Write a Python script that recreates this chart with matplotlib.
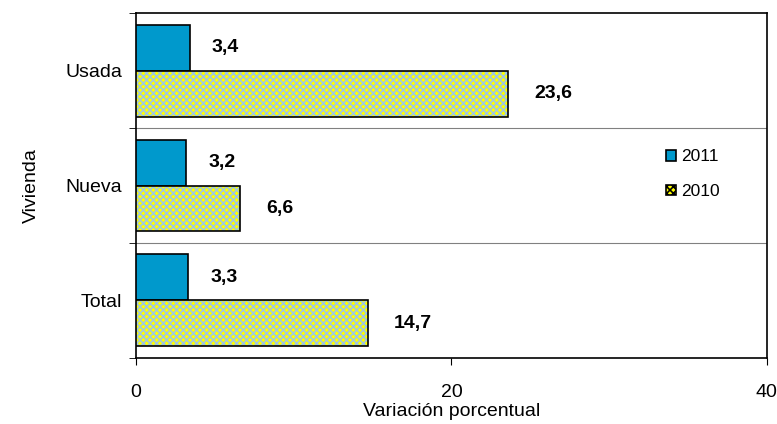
import numpy as np
import matplotlib.pyplot as plt

plt.rcParams['font.family'] = ['Liberation Sans', 'DejaVu Sans']
plt.rcParams['hatch.linewidth'] = 1.2

# datos
categorias = ["Total", "Nueva", "Usada"]
serie_2011 = [3.3, 3.2, 3.4]
serie_2010 = [14.7, 6.6, 23.6]
etiquetas_2011 = ["3,3", "3,2", "3,4"]
etiquetas_2010 = ["14,7", "6,6", "23,6"]

fig = plt.figure(figsize=(7.77, 4.24), dpi=100)
ax = fig.add_axes([0.175, 0.156, 0.812, 0.813])

y = np.arange(len(categorias))
h = 0.4

# barras 2011
ax.barh(y + h / 2, serie_2011, height=h, color='#0099CC', edgecolor='black',
        linewidth=1.2, label='2011', zorder=3)
# barras 2010 (relleno cuadriculado)
ax.barh(y - h / 2, serie_2010, height=h, color='#FFFF00', edgecolor='#9FC8E0',
        hatch='xxxxx', linewidth=0, zorder=3)
ax.barh(y - h / 2, serie_2010, height=h, fill=False, edgecolor='black',
        linewidth=1.2, zorder=4)
# proxy para la leyenda
proxy = plt.Rectangle((0, 0), 1, 1, facecolor='#FFFF00', edgecolor='black',
                      hatch='xxxxx', linewidth=1.2)

for yi, v, t in zip(y, serie_2011, etiquetas_2011):
    ax.annotate(t, (v, yi + h / 2), xytext=(16, 0), textcoords='offset points',
                va='center', ha='left', fontsize=14, fontweight='bold')
for yi, v, t in zip(y, serie_2010, etiquetas_2010):
    ax.annotate(t, (v, yi - h / 2), xytext=(19, 0), textcoords='offset points',
                va='center', ha='left', fontsize=14, fontweight='bold')

ax.set_xlim(0, 40)
ax.set_ylim(-0.5, 2.5)
ax.set_xticks([0, 20, 40])
ax.set_yticks(y)
ax.set_yticklabels(categorias)
ax.set_yticks([-0.5, 0.5, 1.5, 2.5], minor=True)
ax.tick_params(axis='y', which='major', length=0, pad=10, labelsize=14)
ax.tick_params(axis='y', which='minor', length=5, direction='out')
ax.tick_params(axis='x', length=5, direction='out', labelsize=14, pad=14)

for b in [0.5, 1.5]:
    ax.axhline(b, color='#808080', linewidth=0.8, zorder=1)

for s in ax.spines.values():
    s.set_linewidth(1.2)

ax.set_xlabel('Variación porcentual', fontsize=14, labelpad=1)
ax.set_ylabel('Vivienda', fontsize=14, labelpad=18)

handles = [ax.containers[0], proxy]
ax.legend(handles, ['2011', '2010'], loc='upper right',
          bbox_to_anchor=(0.95, 0.65), frameon=False, fontsize=12.5,
          handlelength=0.55, handleheight=0.55, handletextpad=0.3,
          labelspacing=1.15)

fig.savefig('out.png', dpi=100)
